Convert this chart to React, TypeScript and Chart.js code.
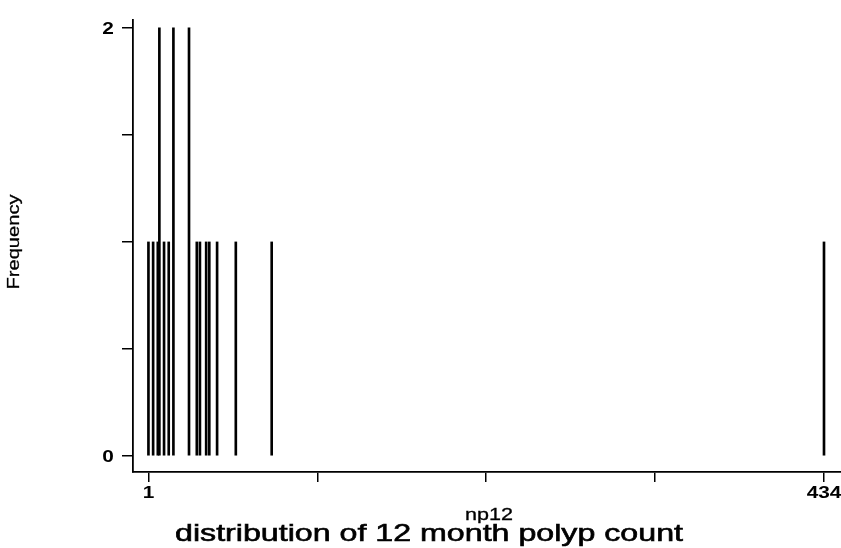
import React, { useEffect, useRef } from "react";
import { Chart, registerables } from "chart.js";

Chart.register(...registerables);

// polyp count values (np12) and their frequencies
const polypCounts = [1, 4, 7, 8, 11, 14, 17, 27, 32, 34, 38, 40, 45, 57, 80, 434];
const frequencies = [1, 1, 1, 2, 1, 1, 2, 2, 1, 1, 1, 1, 1, 1, 1, 1];

const xTickValues = [1, 109.25, 217.5, 325.75, 434];
const xTickLabels = ["1", "", "", "", "434"];
const yTickValues = [0, 0.5, 1, 1.5, 2];
const yTickLabels = ["0", "", "", "", "2"];

const xTitle = "np12";
const yTitle = "Frequency";
const mainTitle = "distribution of 12 month polyp count";

const FAMILY = "'Liberation Sans', Arial, Helvetica, sans-serif";

function stretchedText(ctx: CanvasRenderingContext2D, text: string, x: number, y: number, font: string, stretch: number, rotate = 0, stroke = 0) {
  ctx.save();
  ctx.font = font;
  ctx.textAlign = "center";
  ctx.translate(x, y);
  if (rotate) ctx.rotate(rotate);
  ctx.scale(stretch, 1);
  ctx.fillText(text, 0, 0);
  if (stroke) {
    ctx.strokeStyle = "#000";
    ctx.lineWidth = stroke;
    ctx.strokeText(text, 0, 0);
  }
  ctx.restore();
}

export default function App() {
  const ref = useRef<HTMLCanvasElement>(null);
  useEffect(() => {
    if (!ref.current) return;
    const textPlugin = {
      id: "texts",
      afterDraw(chart: any) {
        const ctx: CanvasRenderingContext2D = chart.ctx;
        const xs = chart.scales.x;
        const ys = chart.scales.y;
        ctx.save();
        ctx.fillStyle = "#000";
        ctx.textBaseline = "alphabetic";
        const tickFont = `bold 16px ${FAMILY}`;
        xTickValues.forEach((v, i) => {
          if (!xTickLabels[i]) return;
          stretchedText(ctx, xTickLabels[i], xs.getPixelForValue(v), 498, tickFont, 1.3);
        });
        yTickValues.forEach((v, i) => {
          if (!yTickLabels[i]) return;
          stretchedText(ctx, yTickLabels[i], 108, ys.getPixelForValue(v) + 6, tickFont, 1.3);
        });
        // x axis title
        ctx.font = `17px ${FAMILY}`;
        const npW = ctx.measureText(xTitle).width;
        stretchedText(ctx, xTitle, 489, 520, `17px ${FAMILY}`, 48 / npW, 0, 0.3);
        // main title
        ctx.font = `24px ${FAMILY}`;
        const tW = ctx.measureText(mainTitle).width;
        stretchedText(ctx, mainTitle, 429, 541, `24px ${FAMILY}`, 508 / tW, 0, 0.6);
        // y axis title
        ctx.font = `16px ${FAMILY}`;
        const fW = ctx.measureText(yTitle).width;
        ctx.textBaseline = "middle";
        stretchedText(ctx, yTitle, 15, 242, `16px ${FAMILY}`, 95 / fW, -Math.PI / 2, 0.3);
        ctx.restore();
      },
    };
    const chart = new Chart(ref.current, {
      type: "bar",
      data: {
        datasets: [
          {
            data: polypCounts.map((v, i) => ({ x: v, y: frequencies[i] })),
            backgroundColor: "#000",
            borderWidth: 0,
            barThickness: 2,
          },
        ],
      },
      options: {
        animation: false,
        responsive: false,
        layout: { padding: { left: 0, right: 0, top: 20, bottom: 0 } },
        plugins: { legend: { display: false }, tooltip: { enabled: false } },
        scales: {
          x: {
            type: "linear",
            min: -8.9,
            max: 444.9,
            offset: false,
            afterBuildTicks(scale: any) {
              scale.ticks = xTickValues.map((v) => ({ value: v }));
            },
            afterFit(scale: any) {
              scale.height = 76;
            },
            grid: { offset: false, drawOnChartArea: false, drawTicks: true, tickLength: 10, color: "#000", lineWidth: 1.5 },
            border: { color: "#000", width: 1.8 },
            ticks: { autoSkip: false, maxRotation: 0, callback: () => "" },
          },
          y: {
            min: -0.075,
            max: 2.037,
            afterBuildTicks(scale: any) {
              scale.ticks = yTickValues.map((v) => ({ value: v }));
            },
            afterFit(scale: any) {
              scale.width = 133;
            },
            grid: { drawOnChartArea: false, drawTicks: true, tickLength: 11, color: "#000", lineWidth: 1.5 },
            border: { color: "#000", width: 1.8 },
            ticks: { autoSkip: false, callback: () => "" },
          },
        },
      },
      plugins: [textPlugin],
    });
    return () => chart.destroy();
  }, []);
  return (
    <div style={{ position: "fixed", left: 0, top: 0, width: 841, height: 548, background: "#fff" }}>
      <canvas ref={ref} width={841} height={548} style={{ display: "block", width: 841, height: 548 }} />
    </div>
  );
}
